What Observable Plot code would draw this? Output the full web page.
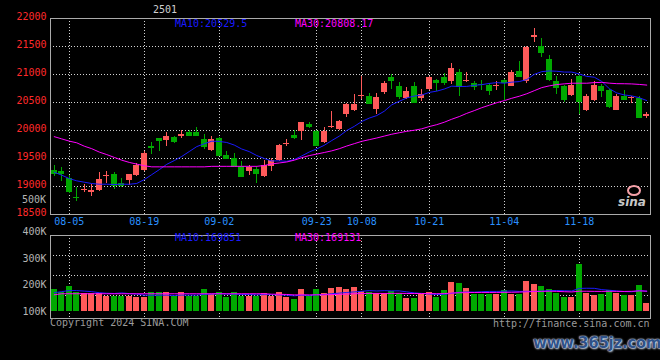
<!DOCTYPE html>
<html><head><meta charset="utf-8">
<script src="https://cdn.jsdelivr.net/npm/d3@7"></script>
<script src="https://cdn.jsdelivr.net/npm/@observablehq/plot@0.6"></script>
<style>
html,body{margin:0;padding:0;background:#000;}
#wrap{position:relative;width:660px;height:360px;background:#000;overflow:hidden;font-family:"DejaVu Sans Mono",monospace;}
.lbl{position:absolute;font-size:10px;line-height:10px;white-space:nowrap;font-family:"DejaVu Sans Mono",monospace;}
#price,#vol{position:absolute;left:0;}
#price{top:0;}
#vol{top:228px;}
#wm{position:absolute;left:533px;top:334px;font:bold 15px "DejaVu Sans",sans-serif;color:#2f5288;letter-spacing:-0.3px;
 text-shadow:0 0 1px #dfe6f2,0 0 2px #dfe6f2,1px 1px 2px #b8c4d8;}
#sinalogo{position:absolute;left:618px;top:195px;font:italic bold 12px "DejaVu Sans",sans-serif;color:#c8c8c8;}
#sinaeye{position:absolute;left:627px;top:185px;width:10px;height:7px;border:2px solid #f4a0a8;border-radius:50%;}
</style></head><body>
<div id="wrap">
  <div id="price"></div>
  <div id="vol"></div>
  <div class="lbl" style="left:153px;top:5px;color:#cfcfcf;">2501</div>
  <div class="lbl" id="ma10p" style="left:175px;top:19px;color:#1a1aff;"></div>
  <div class="lbl" id="ma30p" style="left:295px;top:19px;color:#ff00ff;"></div>
  <div class="lbl" style="left:10px;width:36px;text-align:right;top:195px;color:#b4b4b4;">500K</div>
  <div class="lbl" id="ma10v" style="left:175px;top:233px;color:#1a1aff;"></div>
  <div class="lbl" id="ma30v" style="left:295px;top:233px;color:#ff00ff;"></div>
  <div class="lbl" style="left:50px;top:318px;color:#9a9a9a;">Copyright 2024 SINA.COM</div>
  <div class="lbl" style="left:493px;top:319px;color:#9a9a9a;">http://finance.sina.com.cn</div>
  <div id="sinaeye"></div>
  <div id="sinalogo">sina</div>
  <div id="wm">www.365jz.com</div>
</div>
<script>
const dates = ["08-01","08-02","08-05","08-06","08-07","08-08","08-09","08-12","08-13","08-14","08-15","08-16","08-19","08-20","08-21","08-22","08-23","08-26","08-27","08-28","08-29","08-30",
"09-02","09-03","09-04","09-05","09-06","09-09","09-10","09-11","09-12","09-13","09-18","09-19","09-20","09-23","09-24","09-25","09-26","09-27","09-30",
"10-08","10-09","10-10","10-11","10-14","10-15","10-16","10-17","10-18","10-21","10-22","10-23","10-24","10-25","10-28","10-29","10-30","10-31",
"11-01","11-04","11-05","11-06","11-07","11-08","11-11","11-12","11-13","11-14","11-15","11-18","11-19","11-20","11-21","11-22","11-25","11-26","11-27","11-28","11-29"];

const open  = [19291,19262,19142,18806,18928,18892,18922,19172,19220,19053,19101,19202,19291,19720,19857,19815,19868,19886,19958,19970,
19845,19650,19860,19547,19499,19351,19273,19309,19184,19351,19458,19750,19916,19987,20112,19987,19779,20072,20017,20291,
20351,20622,20613,20380,20672,20946,20779,20571,20779,20571,20737,20886,20946,20868,21035,20893,20839,20827,20809,20785,
20898,20791,21059,20868,21654,21505,21273,20880,20779,20630,20970,20351,20541,20779,20720,20363,20612,20582,20571,20243];
const close = [19231,19232,18904,18800,18940,18934,19124,19202,19023,19023,19214,19380,19589,19690,19827,19886,19797,19934,19904,19904,
19720,19840,19550,19499,19363,19184,19333,19232,19380,19458,19738,19761,19868,20142,20065,19738,19975,20080,20166,20470,
20470,20630,20482,20589,20839,20886,20601,20690,20494,20648,20946,20851,20857,21107,20779,20900,20791,20815,20708,20795,
20851,21029,20958,21476,21702,21386,20916,20761,20559,20797,20511,20601,20809,20720,20422,20612,20559,20590,20232,20291];
const high  = [19380,19340,19202,18982,19041,19041,19243,19273,19243,19142,19220,19410,19618,19785,19860,19958,19898,19993,19993,20053,
19934,19886,19880,19630,19589,19440,19380,19351,19470,19499,19755,19839,19993,20150,20142,20005,20047,20333,20184,20481,
20648,20958,20660,20660,20869,21000,20851,20761,20851,20731,20958,20910,21017,21196,21089,21035,20869,20898,20839,20868,
20910,21077,21226,21505,21821,21642,21345,20958,20809,20916,20980,20648,20868,20827,20725,20648,20720,20612,20600,20327];
const low   = [19172,19083,18874,18726,18886,18815,18904,19053,18946,18982,19023,19172,19261,19577,19630,19708,19767,19857,19886,19886,
19660,19630,19540,19488,19360,19180,19202,19053,19160,19261,19440,19708,19839,19815,20035,19730,19770,20035,20005,20231,
20333,20553,20470,20291,20648,20731,20553,20553,20482,20511,20720,20690,20809,20827,20613,20851,20708,20720,20630,20720,
20541,20779,20950,20839,21565,21303,20868,20648,20499,20612,20291,20333,20511,20589,20392,20351,20541,20482,20230,20214];
const volume = [183000,173000,195000,173000,169000,169000,169000,157000,157000,157000,
157000,154000,154000,171000,171000,171000,157000,171000,157000,157000,
183000,164000,171000,154000,171000,157000,157000,157000,167000,157000,
171000,154000,145000,183000,157000,183000,167000,187000,189000,183000,
192000,175000,172000,169000,169000,175000,167000,150000,150000,163000,
172000,154000,179000,209000,206000,186000,163000,163000,163000,163000,
179000,163000,163000,213000,202000,196000,183000,167000,154000,154000,
277000,169000,160000,164000,179000,169000,160000,160000,198000,131000];

// moving-average values read off the chart where the window is not yet full
const ma10Head  = [19255,19202,19142,19101,19077,19053,19041,19041,19035];
const ma30Head  = [19890,19850,19810,19780,19720,19675,19615,19570,19520,19470,19430,19400,19370,
19351,19351,19351,19351,19351,19351,19351,19351,19360,19360,19360,19360,19360,19360,19360,19375];
const vma10Head = [171000,175000,179000,179000,177000,175000,171000,169000,168000];
const vma30Head = [163000,167000,167000,167000,167000,167000,167000,167000,167000,167000,167000,167000,167000,167000,167000,
167000,167000,167000,167000,167000,167000,167000,167000,167000,167000,167000,167000,167000,167000];

const maLabels = {p10:"MA10:20529.5", p30:"MA30:20808.17", v10:"MA10:169851", v30:"MA30:169131"};
const priceTicks = [18500,19000,19500,20000,20500,21000,21500,22000];
const priceGrid  = [19000,19500,20000,20500,21000,21500];
const dateTicks  = ["08-05","08-19","09-02","09-23","10-08","10-21","11-04","11-18"];
const volTicks   = [100000,200000,300000,400000];
const volGrid    = [160400,235800,311300];
const volBase    = 100000;

const RED = "#ff5a5a", GREEN = "#00a800", BLUE = "#1a1aff", MAG = "#ff00ff", GRID = "#d4d4d4";

function movingAvg(vals, n, head) {
  return vals.map((v, i) => i < head.length ? head[i] : d3.mean(vals.slice(i - n + 1, i + 1)));
}
const ma10 = movingAvg(close, 10, ma10Head), ma30 = movingAvg(close, 30, ma30Head);
const vma10 = movingAvg(volume, 10, vma10Head), vma30 = movingAvg(volume, 30, vma30Head);

const candles = dates.map((d, i) => ({date: d, open: open[i], close: close[i], high: high[i], low: low[i],
  vol: volume[i], col: close[i] >= open[i] ? RED : GREEN,
  ma10: ma10[i], ma30: ma30[i], vma10: vma10[i], vma30: vma30[i]}));

const xScale = {type: "band", domain: dates, paddingInner: 0.2, paddingOuter: 0.1, align: 0.5, axis: null};
const baseStyle = {background: "transparent", color: "#aaa", fontFamily: '"DejaVu Sans Mono", monospace', fontSize: "10px", overflow: "visible"};
const dotted = {stroke: GRID, strokeDasharray: "1,2", shapeRendering: "crispEdges"};

const pricePlot = Plot.plot({
  width: 660, height: 232, marginLeft: 50, marginRight: 10, marginTop: 18, marginBottom: 18,
  style: baseStyle,
  x: xScale,
  y: {domain: [18500, 22000], axis: null},
  color: {type: "identity"},
  marks: [
    Plot.ruleY(priceGrid, dotted),
    Plot.ruleX(dateTicks, dotted),
    Plot.ruleX(candles, {x: "date", y1: "low", y2: "high", stroke: "col", shapeRendering: "crispEdges"}),
    Plot.barY(candles, {x: "date", y1: d => Math.min(d.open, d.close), y2: d => Math.max(d.open, d.close), fill: "col", shapeRendering: "crispEdges"}),
    Plot.tickY(candles, {x: "date", y: "close", stroke: "col", shapeRendering: "crispEdges"}),
    Plot.line(candles, {x: "date", y: "ma10", stroke: BLUE, strokeWidth: 1}),
    Plot.line(candles, {x: "date", y: "ma30", stroke: MAG, strokeWidth: 1}),
    Plot.frame({stroke: "#aaaaaa", shapeRendering: "crispEdges"}),
    Plot.axisY(priceTicks, {tickSize: 0, tickPadding: 4, fill: "#ff2a2a", tickFormat: d => String(d), dy: -1.5, label: null}),
    Plot.axisX(dateTicks, {tickSize: 0, tickPadding: 3, fill: "#2a90ff", label: null})
  ]
});
document.getElementById("price").appendChild(pricePlot);

const volPlot = Plot.plot({
  width: 660, height: 132, marginLeft: 50, marginRight: 10, marginTop: 7, marginBottom: 42,
  style: baseStyle,
  x: xScale,
  y: {domain: [73600, 386800], axis: null},
  color: {type: "identity"},
  marks: [
    Plot.ruleY(volGrid, dotted),
    Plot.ruleX(dateTicks, dotted),
    Plot.barY(candles, {x: "date", y1: () => volBase, y2: "vol", fill: "col", shapeRendering: "crispEdges"}),
    Plot.line(candles, {x: "date", y: "vma10", stroke: BLUE, strokeWidth: 1}),
    Plot.line(candles, {x: "date", y: "vma30", stroke: MAG, strokeWidth: 1}),
    Plot.frame({stroke: "#aaaaaa", shapeRendering: "crispEdges"}),
    Plot.axisY(volTicks, {tickSize: 0, tickPadding: 4, fill: "#b4b4b4", tickFormat: d => (d / 1000) + "K", label: null})
  ]
});
document.getElementById("vol").appendChild(volPlot);

document.getElementById("ma10p").textContent = maLabels.p10;
document.getElementById("ma30p").textContent = maLabels.p30;
document.getElementById("ma10v").textContent = maLabels.v10;
document.getElementById("ma30v").textContent = maLabels.v30;
</script>
</body></html>
